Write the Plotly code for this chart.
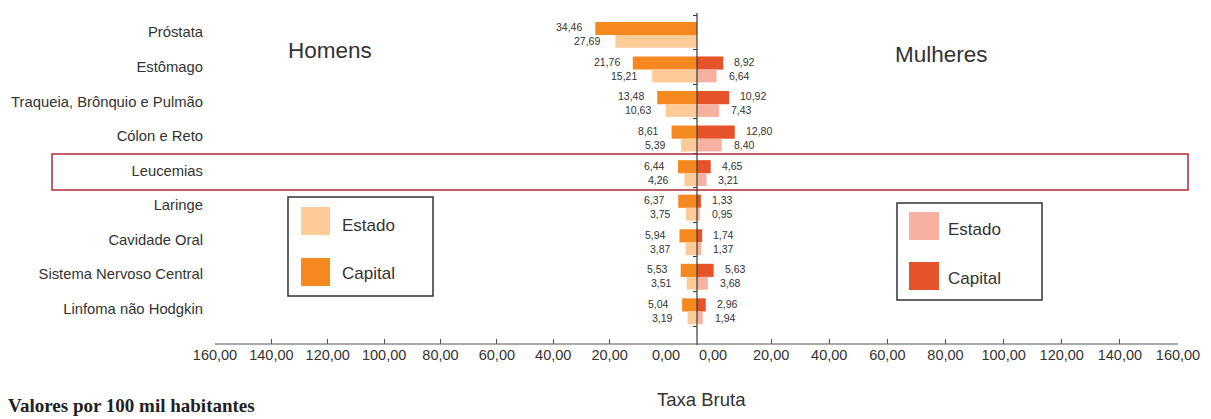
import plotly.graph_objects as go

# ---------------- data ----------------
categories = ["Próstata", "Estômago", "Traqueia, Brônquio e Pulmão", "Cólon e Reto",
              "Leucemias", "Laringe", "Cavidade Oral", "Sistema Nervoso Central",
              "Linfoma não Hodgkin"]
homens_capital = [34.46, 21.76, 13.48, 8.61, 6.44, 6.37, 5.94, 5.53, 5.04]
homens_estado = [27.69, 15.21, 10.63, 5.39, 4.26, 3.75, 3.87, 3.51, 3.19]
mulheres_capital = [None, 8.92, 10.92, 12.80, 4.65, 1.33, 1.74, 5.63, 2.96]
mulheres_estado = [None, 6.64, 7.43, 8.40, 3.21, 0.95, 1.37, 3.68, 1.94]
axis_ticks = [0, 20, 40, 60, 80, 100, 120, 140, 160]
highlight = "Leucemias"

# ---------------- styling ----------------
W, H = 1211, 419
def fx(px):
    return px / W
def fy(py):
    return 1 - py / H

SANS = "Liberation Sans, Arial, sans-serif"
TXT = "#333333"
C_MEN_CAP = "#F5891F"
C_MEN_EST = "#FDCB98"
C_WOM_CAP = "#E4532A"
C_WOM_EST = "#F7B1A1"

CENTER = 697.0
SCALE = 2.95  # px per unit
x_range = [-CENTER / SCALE, (W - CENTER) / SCALE]

def fmt(v):
    return f"{v:.2f}".replace(".", ",")

fig = go.Figure()

CAP_W, CAP_OFF = 0.38, -0.30
EST_W, EST_OFF = 0.37, 0.08

fig.add_trace(go.Bar(y=categories, x=[-v for v in homens_capital], orientation="h",
                     width=CAP_W, offset=CAP_OFF, marker=dict(color=C_MEN_CAP, line_width=0),
                     showlegend=False, hoverinfo="skip"))
fig.add_trace(go.Bar(y=categories, x=[-v for v in homens_estado], orientation="h",
                     width=EST_W, offset=EST_OFF, marker=dict(color=C_MEN_EST, line_width=0),
                     showlegend=False, hoverinfo="skip"))
fig.add_trace(go.Bar(y=categories, x=mulheres_capital, orientation="h",
                     width=CAP_W, offset=CAP_OFF, marker=dict(color=C_WOM_CAP, line_width=0),
                     showlegend=False, hoverinfo="skip"))
fig.add_trace(go.Bar(y=categories, x=mulheres_estado, orientation="h",
                     width=EST_W, offset=EST_OFF, marker=dict(color=C_WOM_EST, line_width=0),
                     showlegend=False, hoverinfo="skip"))

# helper traces so the auxiliary axes get drawn
fig.add_trace(go.Scatter(x=[None], y=[None], xaxis="x", yaxis="y2", showlegend=False, hoverinfo="skip"))
fig.add_trace(go.Scatter(x=[None], y=[None], xaxis="x2", yaxis="y", showlegend=False, hoverinfo="skip"))
fig.add_trace(go.Scatter(x=[None], y=[None], xaxis="x3", yaxis="y", showlegend=False, hoverinfo="skip"))

annotations = []
vfont = dict(family=SANS, size=10.5, color=TXT)
for cat, hc, he, mc, me in zip(categories, homens_capital, homens_estado, mulheres_capital, mulheres_estado):
    annotations.append(dict(x=-hc, y=cat, xref="x", yref="y", text=fmt(hc), showarrow=False,
                            xanchor="right", xshift=-11, yshift=5, font=vfont))
    annotations.append(dict(x=-he, y=cat, xref="x", yref="y", text=fmt(he), showarrow=False,
                            xanchor="right", xshift=-13, yshift=-9, font=vfont))
    if mc is not None:
        annotations.append(dict(x=mc, y=cat, xref="x", yref="y", text=fmt(mc), showarrow=False,
                                xanchor="left", xshift=9, yshift=5, font=vfont))
    if me is not None:
        annotations.append(dict(x=me, y=cat, xref="x", yref="y", text=fmt(me), showarrow=False,
                                xanchor="left", xshift=10, yshift=-9, font=vfont))

def label(text, x, y, size, xanchor="left", family=SANS, color=TXT):
    annotations.append(dict(x=fx(x), y=fy(y), xref="paper", yref="paper", text=text,
                            showarrow=False, xanchor=xanchor, yanchor="middle",
                            font=dict(family=family, size=size, color=color)))

label("Homens", 286, 51, 22.5)
label("Mulheres", 893, 54, 22.5)
label("Estado", 340, 225, 17)
label("Capital", 340, 273, 17)
label("Estado", 946, 230, 17)
label("Capital", 946, 278, 17)
label("Taxa Bruta", 701, 399, 18.5, xanchor="center")
label("<b>Valores por 100 mil habitantes</b>", 6, 405, 19,
      family="Liberation Serif, Times New Roman, serif", color="#222")

shapes = []
def rect(x0, y0, x1, y1, **kw):
    shapes.append(dict(type="rect", xref="paper", yref="paper",
                       x0=fx(x0), x1=fx(x1), y0=fy(y1), y1=fy(y0), **kw))

# legend boxes and swatches
rect(288, 197, 433, 296, line=dict(color="#333", width=1.5), fillcolor="rgba(0,0,0,0)", layer="above")
rect(301, 207, 330, 235, line=dict(width=0), fillcolor=C_MEN_EST, layer="above")
rect(301, 258, 330, 286, line=dict(width=0), fillcolor=C_MEN_CAP, layer="above")
rect(897, 203, 1042, 300, line=dict(color="#333", width=1.5), fillcolor="rgba(0,0,0,0)", layer="above")
rect(909, 212, 939, 240, line=dict(width=0), fillcolor=C_WOM_EST, layer="above")
rect(909, 262, 939, 290, line=dict(width=0), fillcolor=C_WOM_CAP, layer="above")

# highlight box around Leucemias
rect(52, 154, 1188, 190, line=dict(color="#B3283A", width=1.5), fillcolor="rgba(0,0,0,0)", layer="above")

# center line
shapes.append(dict(type="line", xref="x", yref="paper", x0=0, x1=0, y0=fy(345), y1=fy(13),
                   line=dict(color="#3a3a3a", width=1.2), layer="above"))
# bottom axis line
shapes.append(dict(type="line", xref="paper", yref="paper", x0=fx(215), x1=fx(1178),
                   y0=fy(344), y1=fy(344), line=dict(color="#555", width=1.2)))

tickfont = dict(family=SANS, size=14.5, color=TXT)
fig.update_layout(
    width=W, height=H, autosize=False,
    margin=dict(l=0, r=0, t=0, b=0, pad=0),
    paper_bgcolor="white", plot_bgcolor="rgba(0,0,0,0)",
    barmode="overlay",
    separators=",.",
    xaxis=dict(domain=[0, 1], range=x_range, visible=False, fixedrange=True, automargin=False),
    yaxis=dict(type="category", categoryorder="array", categoryarray=categories,
               range=[len(categories) - 0.5, -0.5], domain=[fy(326), fy(15)],
               anchor="free", position=fx(203), showline=False, showgrid=False,
               zeroline=False, ticks="", automargin=False,
               tickfont=dict(family=SANS, size=14.8, color=TXT)),
    yaxis2=dict(overlaying="y", anchor="free", position=fx(CENTER),
                range=[len(categories) - 0.5, -0.5],
                tickvals=[i - 0.5 for i in range(len(categories) + 1)],
                ticks="outside", ticklen=4, tickcolor="#3a3a3a", showticklabels=False,
                showgrid=False, zeroline=False, showline=False, automargin=False),
    xaxis2=dict(domain=[fx(215), fx(666)], range=[160, 0], anchor="free", position=fy(344),
                tickvals=axis_ticks, tickformat=".2f", ticks="inside", ticklen=5, tickcolor="#555",
                showgrid=False, zeroline=False, showline=False, tickfont=tickfont, automargin=False),
    xaxis3=dict(domain=[fx(713), fx(1178)], range=[0, 160], anchor="free", position=fy(344),
                tickvals=axis_ticks, tickformat=".2f", ticks="inside", ticklen=5, tickcolor="#555",
                showgrid=False, zeroline=False, showline=False, tickfont=tickfont, automargin=False),
    annotations=annotations,
    shapes=shapes,
)

fig.write_html("out.html")
